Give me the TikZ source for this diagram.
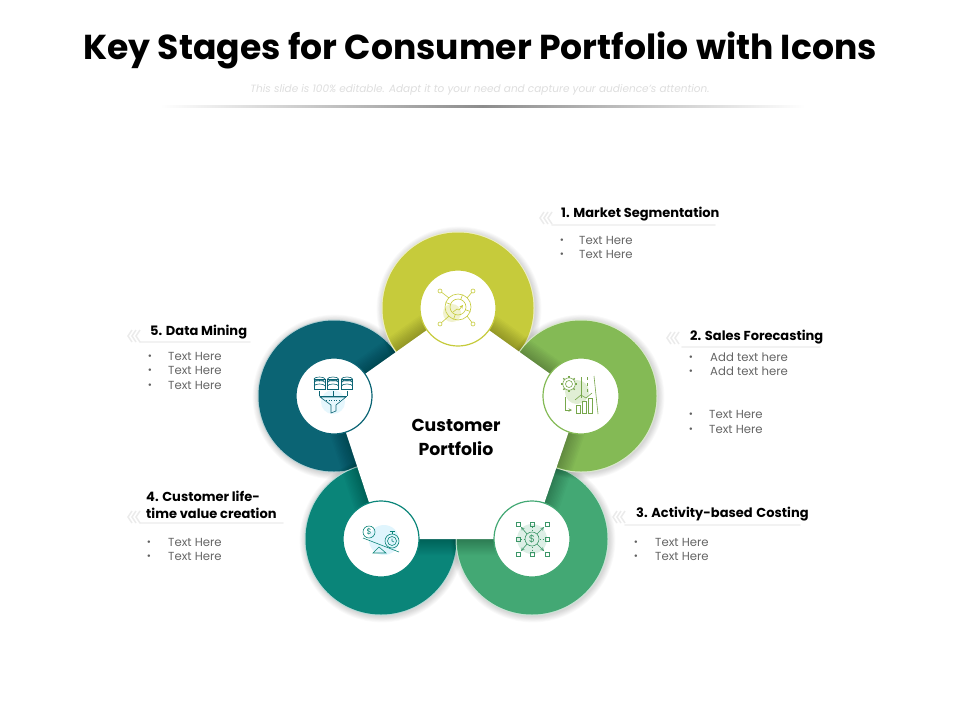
\documentclass[tikz,border=0pt]{standalone}
\usepackage{fontspec}
\setmainfont{Poppins}
\usetikzlibrary{}

\definecolor{ringone}{HTML}{C6CB3B}
\definecolor{ringtwo}{HTML}{84BA55}
\definecolor{ringthree}{HTML}{43A874}
\definecolor{ringfour}{HTML}{0A8579}
\definecolor{ringfive}{HTML}{0B6474}

\tikzset{
  headtext/.style={anchor=west,inner sep=0pt,font=\fontsize{13}{17}\selectfont\bfseries,text=black,align=left},
  itemtext/.style={anchor=west,inner sep=0pt,font=\fontsize{11.7}{14}\selectfont,text=black!60},
  itemdot/.style={inner sep=0pt,font=\fontsize{10}{14}\selectfont,text=black!62},
  headbar/.style={line width=1.6pt,black!5,line cap=round},
  chevron/.style={line width=1.5pt,black!8},
  iconline/.style={line width=0.6pt}
}

\begin{document}
\begin{tikzpicture}[x=1pt,y=-1pt]
    \useasboundingbox (0,0) rectangle (960,720);
    \fill[white] (0,0) rectangle (960,720);

    % Title
    \node[inner sep=0pt,font=\fontsize{34.6}{38}\selectfont\bfseries] (title) at (480,50.5) {Key Stages for Consumer Portfolio with Icons};
    \node[inner sep=0pt,font=\fontsize{10.5}{12}\selectfont\itshape,text=black!13] (subtitle) at (480,90) {This slide is 100\% editable. Adapt it to your need and capture your audience's attention.};
    \shade[left color=white,right color=white,middle color=black!45] (160,105.8) rectangle (805,107);

    % Centres
    \coordinate (c1) at (458,308);
    \coordinate (c2) at (581,396);
    \coordinate (c3) at (532,539);
    \coordinate (c4) at (381,539);
    \coordinate (c5) at (334,396);

    % Rings
    \foreach \c/\col in {c5/ringfive,c4/ringfour,c3/ringthree,c1/ringone,c2/ringtwo}{
        \foreach \w in {1,2,...,8}
            \fill[black,opacity=0.018] ([shift={(1,1)}]\c) circle (76+\w*0.8);
        \fill[\col!30] (\c) circle (76.5);
        \fill[\col] (\c) circle (75.5);
    }

    % Shade along the pentagon
    \begin{scope}
        \clip (c1) circle (75) (c2) circle (75) (c3) circle (75) (c4) circle (75) (c5) circle (75);
        \foreach \w in {2,5,...,32}
            \draw[black,opacity=0.022,line width=\w,line join=round] (c1) -- (c2) -- (c3) -- (c4) -- (c5) -- cycle;
    \end{scope}
    \fill[white] (c1) -- (c2) -- (c3) -- (c4) -- (c5) -- cycle;

    % Inner circles
    \foreach \c/\col in {c1/ringone,c2/ringtwo,c3/ringthree,c4/ringfour,c5/ringfive}{
        \draw[\col,line width=1.2pt,fill=white] (\c) circle (38);
    }

    % Icon 1
    \fill[ringone!25] (452,313) circle (9);
    \begin{scope}[iconline,ringone]
        \draw (458,307) circle (13) (458,307) circle (8);
        \foreach \a in {20,110,200,290}
            \draw (458,307) ++(\a:8) -- ++(\a:5);
        \draw[->,>=stealth] (453,312) -- (457,309) -- (459,310) -- (463,305);
        \draw (449,298) -- (440,291) (467,298) -- (473,291) (449,316) -- (440,324) (467,316) -- (473,324);
        \draw[fill=white] (440,291) circle (2) (473,291) circle (2) (440,324) circle (2) (473,324) circle (2);
    \end{scope}

    % Icon 2
    \fill[ringtwo!25] (577,392) circle (12);
    \begin{scope}[iconline,ringtwo!90!black]
        \foreach \a in {0,45,...,315}
            \draw[line width=1.4pt] (569,384) ++(\a:6) -- ++(\a:2);
        \draw[fill=white] (569,384) circle (6.2) (569,384) circle (3.5);
        \draw (581,377) -- (581,398);
        \draw[dashed] (587,377) -- (587,392);
        \draw (594,376) -- (598,414);
        \draw (576,413.5) rectangle (580,405) (582,413.5) rectangle (586,401) (588,413.5) rectangle (592,398);
        \draw (575,400) -- (581,395) -- (586,398) -- (592,393);
        \draw[->,>=stealth] (565,397) -- (565,410) -- (572,410);
    \end{scope}

    % Icon 3
    \fill[ringthree!18] (532,539) circle (15);
    \begin{scope}[iconline,ringthree!90!black]
        \draw (532,539) circle (7);
        \node[inner sep=0pt,text=ringthree!90!black,font=\fontsize{10}{10}\selectfont] (dollarthree) at (532,539) {\$};
        \foreach \x/\y in {518/524,532/524,547/524,518/539,547/539,518/554,532/554,547/554}
            \draw (\x-2,\y-2) rectangle (\x+2,\y+2);
        \draw[->,>=stealth] (537,534) -- (544,527);
        \draw[->,>=stealth] (527,534) -- (521,527);
        \draw[->,>=stealth] (527,544) -- (521,551);
        \draw[->,>=stealth] (537,544) -- (544,551);
        \draw[dotted] (532,527) -- (532,531) (532,547) -- (532,551) (521,539) -- (524,539) (540,539) -- (544,539);
    \end{scope}

    % Icon 4
    \fill[cyan!12] (384,540) circle (15);
    \begin{scope}[iconline,ringfour]
        \draw (369,532) circle (6);
        \node[inner sep=0pt,text=ringfour,font=\fontsize{8}{8}\selectfont] (dollarfour) at (369,532) {\$};
        \draw (392,541) circle (7) (392,541) circle (4.5);
        \draw (392,534) -- (392,532) (389.5,531.5) -- (394.5,531.5);
        \draw (392,541) -- (392,538.5) (392,541) -- (394,542);
        \draw (363,538) -- (399,552);
        \draw (379,547) -- (373,553) -- (386,553) -- cycle;
    \end{scope}

    % Icon 5
    \fill[cyan!10] (333,402) circle (12);
    \begin{scope}[iconline,ringfive]
        \foreach \x in {319.5,333,347}{
            \draw[fill=white] (\x-5.5,379) rectangle (\x+5.5,389);
            \draw (\x,379) ellipse (5.5 and 2);
            \draw (\x-5.5,382.5) arc (180:360:5.5 and 2) (\x-5.5,386) arc (180:360:5.5 and 2);
            \draw (\x,391) -- (\x,396);
        }
        \draw (319.5,396) -- (347,396);
        \draw (320,397) -- (346,397) -- (336,405) -- (336,411) -- (331,413) -- (331,405) -- cycle;
        \draw[dotted] (326,400) -- (340,400);
    \end{scope}

    % Centre text
    \node[inner sep=0pt,align=center,font=\fontsize{17.3}{24}\selectfont\bfseries] (centre) at (456,437) {Customer\\Portfolio};

    % Head bars and chevrons
    \foreach \xa/\xb/\y/\xc/\yc in {552/715/225/540/218, 682/820/347/667/338, 625/800/525/613/517, 140/283/523/128/517, 140/250/342/128/336}{
        \draw[headbar] (\xa,\y) -- (\xb,\y);
        \foreach \d in {0,4,8}
            \draw[chevron] (\xc+\d+4,\yc-6) -- (\xc+\d,\yc) -- (\xc+\d+4,\yc+6);
    }

    % Text 1
    \node[headtext] (head1) at (561,214) {1. Market Segmentation};
    \foreach \n/\y in {a/240.5,b/254.5}{
        \node[itemdot] (dot1\n) at (562,\y+1) {•};
        \node[itemtext] (item1\n) at (579,\y) {Text Here};
    }

    % Text 2
    \node[headtext] (head2) at (690,337) {2. Sales Forecasting};
    \foreach \n/\y in {a/357.5,b/371.5}{
        \node[itemdot] (dot2\n) at (691,\y+1) {•};
        \node[itemtext] (item2\n) at (710,\y) {Add text here};
    }
    \foreach \n/\y in {c/414.5,d/429.5}{
        \node[itemdot] (dot2\n) at (691,\y+1) {•};
        \node[itemtext] (item2\n) at (709,\y) {Text Here};
    }

    % Text 3
    \node[headtext] (head3) at (636,514) {3. Activity-based\hspace{1pt} Costing};
    \foreach \n/\y in {a/542.5,b/556.5}{
        \node[itemdot] (dot3\n) at (636,\y+1) {•};
        \node[itemtext] (item3\n) at (655,\y) {Text Here};
    }

    % Text 4
    \node[headtext] (head4) at (146,505) {4. Customer life-\\time value creation};
    \foreach \n/\y in {a/542.5,b/556.5}{
        \node[itemdot] (dot4\n) at (149,\y+1) {•};
        \node[itemtext] (item4\n) at (168,\y) {Text Here};
    }

    % Text 5
    \node[headtext] (head5) at (150,332) {5. Data Mining};
    \foreach \n/\y in {a/356.5,b/370.5,c/385.5}{
        \node[itemdot] (dot5\n) at (150,\y+1) {•};
        \node[itemtext] (item5\n) at (168,\y) {Text Here};
    }

\end{tikzpicture}
\end{document}
